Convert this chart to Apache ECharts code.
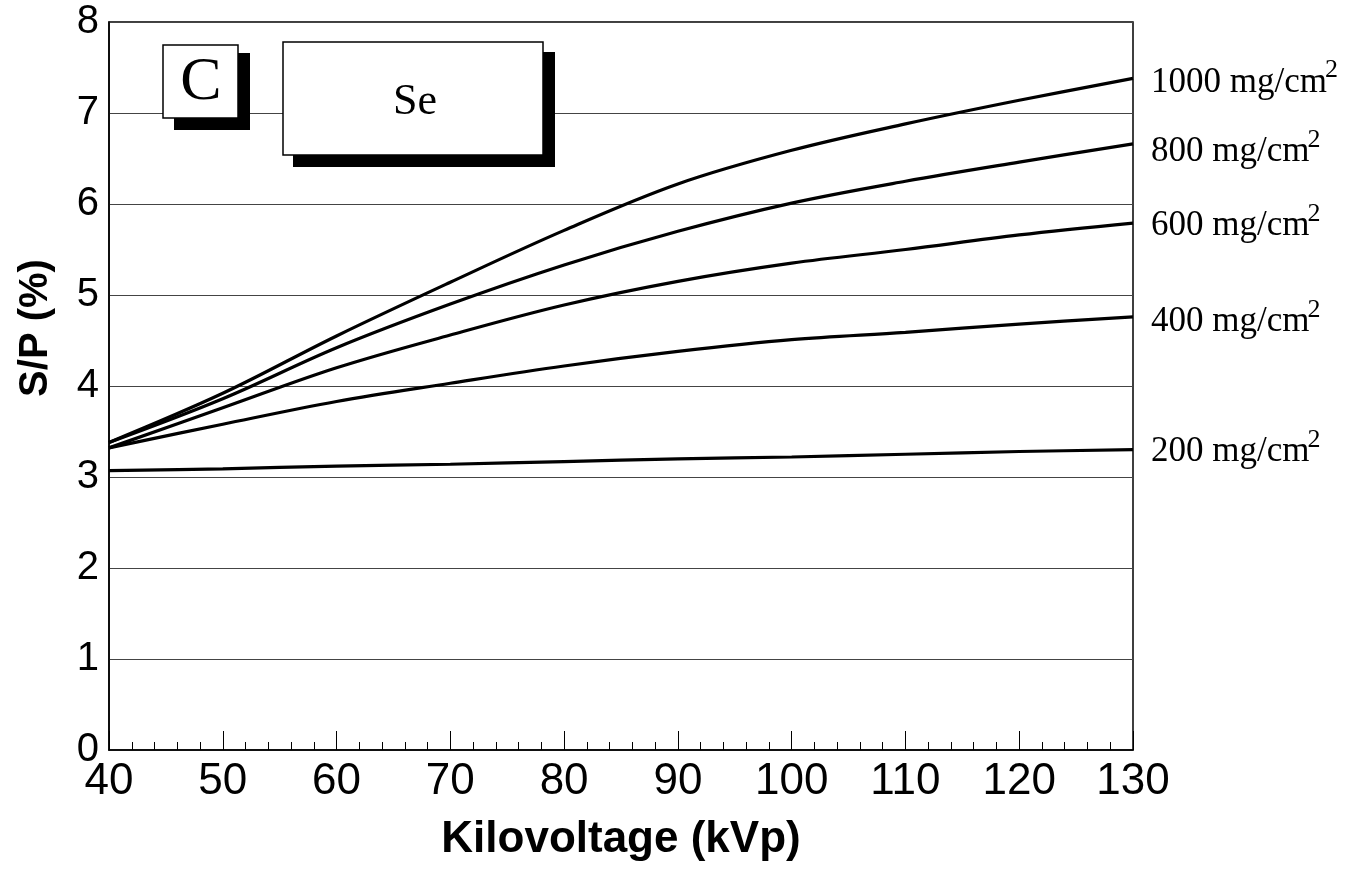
<!DOCTYPE html>
<html>
<head>
<meta charset="utf-8">
<title>S/P vs Kilovoltage – Se</title>
<script src="https://cdn.jsdelivr.net/npm/echarts@6/dist/echarts.min.js"></script>
<style>
  html, body { margin: 0; padding: 0; background: #fff; }
  #chart { width: 1347px; height: 869px; }
</style>
</head>
<body>
<div id="chart"></div>
<script>
// Tube voltage (kVp) sample points
const kvp = [40, 50, 60, 70, 80, 90, 100, 110, 120, 130];

// Scatter-to-primary ratio (%) for each selenium thickness
const sp1000 = [3.38, 3.92, 4.55, 5.14, 5.71, 6.22, 6.59, 6.88, 7.14, 7.38];
const sp800  = [3.38, 3.86, 4.42, 4.90, 5.33, 5.70, 6.01, 6.25, 6.46, 6.66];
const sp600  = [3.32, 3.76, 4.20, 4.56, 4.89, 5.15, 5.35, 5.50, 5.66, 5.79];
const sp400  = [3.32, 3.58, 3.83, 4.03, 4.22, 4.38, 4.51, 4.59, 4.68, 4.76];
const sp200  = [3.07, 3.09, 3.12, 3.14, 3.17, 3.20, 3.22, 3.25, 3.28, 3.30];

// Thickness labels (mg/cm²) drawn at the right end of each curve
const thickness = ['1000', '800', '600', '400', '200'];
const curves = [sp1000, sp800, sp600, sp400, sp200];

// Axis tick values
const xTicks = { min: 40, max: 130, step: 10 };
const yTicks = { min: 0, max: 8, step: 1 };

const chart = echarts.init(document.getElementById('chart'));

const serif = "'Liberation Serif', 'Times New Roman', 'DejaVu Serif', serif";
const sans = "'Liberation Sans', Arial, Helvetica, sans-serif";

// small vertical nudges so the end labels sit like a hand-placed legend
const labelNudge = [4, 8, 3, 5, 2];

const series = curves.map((vals, i) => ({
  name: thickness[i] + ' mg/cm²',
  type: 'line',
  smooth: 0.35,
  showSymbol: false,
  silent: true,
  data: kvp.map((k, j) => [k, vals[j]]),
  lineStyle: { color: '#000', width: 3.2 },
  endLabel: {
    show: true,
    distance: 18,
    offset: [0, labelNudge[i]],
    formatter: '{n|' + thickness[i] + ' mg/cm}{s|2}',
    rich: {
      n: { fontFamily: serif, fontSize: 35, color: '#000', lineHeight: 50 },
      s: { fontFamily: serif, fontSize: 26, color: '#000', verticalAlign: 'top', lineHeight: 50, padding: [0, 0, 0, -2] }
    }
  }
}));

chart.setOption({
  animation: false,
  backgroundColor: '#fff',
  grid: {
    left: 109, right: 214, top: 22, bottom: 119,
    outerBoundsMode: 'none',
    containLabel: false,
    show: true, borderColor: '#000', borderWidth: 1.5, backgroundColor: 'transparent'
  },
  xAxis: {
    type: 'value',
    min: xTicks.min, max: xTicks.max, interval: xTicks.step,
    name: 'Kilovoltage (kVp)',
    nameLocation: 'middle',
    nameGap: 68,
    nameTextStyle: { fontFamily: sans, fontWeight: 'bold', fontSize: 44, color: '#000' },
    axisLine: { show: true, lineStyle: { color: '#000', width: 1.5 } },
    axisTick: { show: true, inside: true, length: 19, lineStyle: { color: '#000', width: 1 } },
    minorTick: { show: true, splitNumber: 5, length: 8, lineStyle: { color: '#000', width: 1 } },
    axisLabel: { fontFamily: sans, fontSize: 44, color: '#000', margin: 10 },
    splitLine: { show: false }
  },
  yAxis: {
    type: 'value',
    min: yTicks.min, max: yTicks.max, interval: yTicks.step,
    axisLine: { show: true, lineStyle: { color: '#000', width: 1.5 } },
    axisTick: { show: false },
    axisLabel: { fontFamily: sans, fontSize: 40, color: '#000', margin: 10 },
    splitLine: { show: true, lineStyle: { color: '#444', width: 1 } }
  },
  series: series,
  graphic: [
    // vertical axis title
    {
      type: 'text', z: 100,
      x: 36, y: 328, rotation: Math.PI / 2,
      style: {
        text: 'S/P (%)', fontFamily: sans, fontWeight: 'bold', fontSize: 40,
        fill: '#000', align: 'center', verticalAlign: 'middle'
      }
    },
    // panel letter box with drop shadow
    { type: 'rect', z: 100, shape: { x: 174, y: 53, width: 76, height: 77 }, style: { fill: '#000' } },
    { type: 'rect', z: 101, shape: { x: 163, y: 45, width: 75, height: 73 }, style: { fill: '#fff', stroke: '#000', lineWidth: 1.5 } },
    {
      type: 'text', z: 102, x: 201, y: 83,
      style: { text: 'C', fontFamily: serif, fontSize: 62, fill: '#000', align: 'center', verticalAlign: 'middle' }
    },
    // material box with drop shadow
    { type: 'rect', z: 100, shape: { x: 293, y: 52, width: 262, height: 115 }, style: { fill: '#000' } },
    { type: 'rect', z: 101, shape: { x: 283, y: 42, width: 260, height: 113 }, style: { fill: '#fff', stroke: '#000', lineWidth: 1.5 } },
    {
      type: 'text', z: 102, x: 415, y: 102,
      style: { text: 'Se', fontFamily: serif, fontSize: 44, fill: '#000', align: 'center', verticalAlign: 'middle' }
    }
  ]
});
</script>
</body>
</html>
